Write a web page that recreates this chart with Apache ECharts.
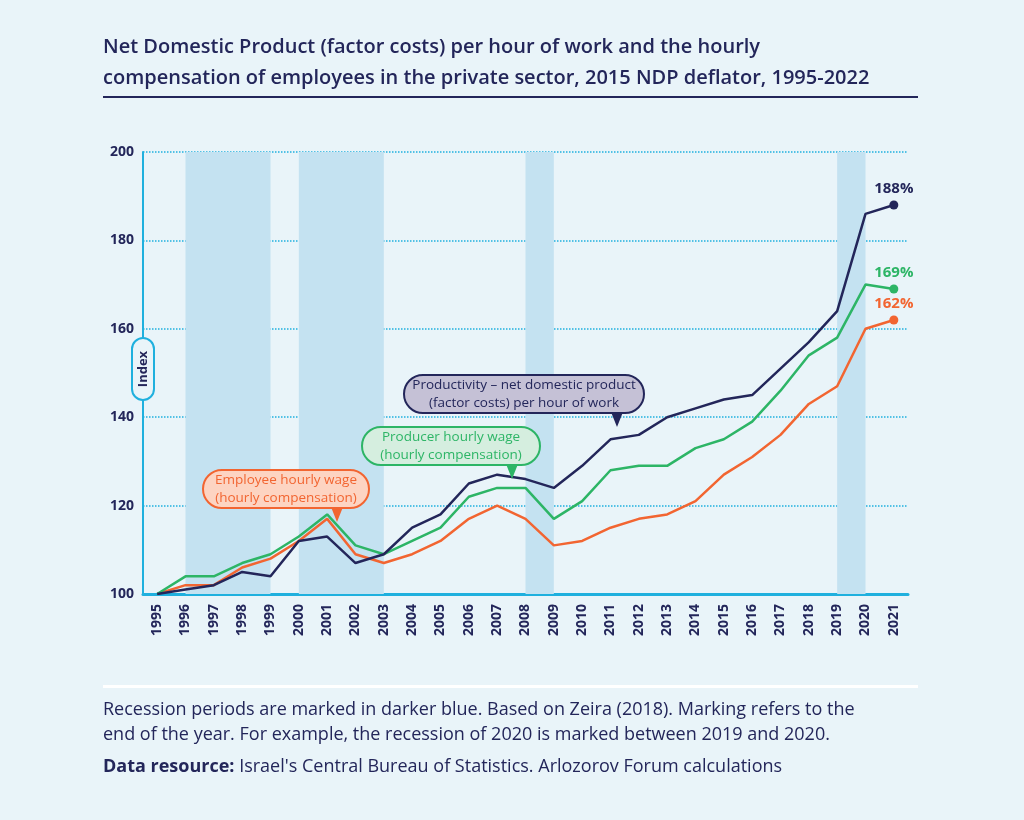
<!DOCTYPE html>
<html><head><meta charset="utf-8">
<script src="https://cdn.jsdelivr.net/npm/echarts@6/dist/echarts.min.js"></script>
<style>html,body{margin:0;padding:0;background:#e9f4f9;}#c{width:1024px;height:820px;}</style>
</head><body><div id="c"></div>
<script>
const years = ['1995','1996','1997','1998','1999','2000','2001','2002','2003','2004','2005','2006','2007','2008','2009','2010','2011','2012','2013','2014','2015','2016','2017','2018','2019','2020','2021'];
const productivity = [100,101,102,105,104,112,113,107,109,115,118,125,127,126,124,129,135,136,140,142,144,145,151,157,164,186,188];
const producerWage = [100,104,104,107,109,113,118,111,109,112,115,122,124,124,117,121,128,129,129,133,135,139,146,154,158,170,169];
const employeeWage = [100,102,102,106,108,112,117,109,107,109,112,117,120,117,111,112,115,117,118,121,127,131,136,143,147,160,162];
const recessions = [['1996','1999'],['2000','2003'],['2008','2009'],['2019','2020']];
const yTicks = [100,120,140,160,180,200];

const NAVY='#23265a', GREEN='#2db566', ORANGE='#f26531', CYAN='#1fb0de';
const chart = echarts.init(document.getElementById('c'));
function endMark(color, val){
  return {symbol:'circle', symbolSize:9, itemStyle:{color},
    label:{show:true, position:'top', distance:4, color, fontSize:15, fontWeight:'bold', fontFamily:'Open Sans', formatter: val+'%'},
    data:[{coord:[years[years.length-1], val], value:val}]};
}
function callout(x,y,w,h,fill,stroke,color,lines,tipX,tipDir){
  return [
    {type:'rect', shape:{x,y,width:w,height:h,r:h/2}, style:{fill,stroke,lineWidth:2}, z:20},
    {type:'polygon', shape:{points:[[tipX-6,y+h-1],[tipX+6,y+h-1],[tipX+tipDir,y+h+14]]}, style:{fill:stroke}, z:21},
    {type:'text', x:x+w/2, y:y+h/2, style:{text:lines, fill:color, font:'13.5px "Open Sans"', align:'center', verticalAlign:'middle', lineHeight:18}, z:22}
  ];
}
chart.setOption({
  backgroundColor:'#e9f4f9',
  animation:false,
  grid:{left:143, right:116, top:152, bottom:226},
  xAxis:{type:'category', data:years, boundaryGap:true,
    axisLine:{lineStyle:{color:CYAN, width:3}}, axisTick:{show:false},
    axisLabel:{rotate:90, color:NAVY, fontWeight:'bold', fontSize:14, fontFamily:'Open Sans', margin:10, interval:0},
    splitLine:{show:false}},
  yAxis:{type:'value', min:100, max:200, interval:20,
    axisLine:{show:true, lineStyle:{color:CYAN, width:2}}, axisTick:{show:false},
    axisLabel:{color:NAVY, fontWeight:'bold', fontSize:14, fontFamily:'Open Sans', margin:9, formatter:v=>yTicks.includes(v)?String(v):''},
    splitLine:{lineStyle:{color:CYAN, type:'dotted', width:1.5}}},
  series:[
    {type:'line', data:employeeWage, symbol:'none', lineStyle:{color:ORANGE, width:2.5}, z:3,
      markArea:{silent:true, itemStyle:{color:'#c4e2f1'}, data:recessions.map(r=>[{xAxis:r[0]},{xAxis:r[1]}])},
      markPoint:endMark(ORANGE,162)},
    {type:'line', data:producerWage, symbol:'none', lineStyle:{color:GREEN, width:2.5}, z:4, markPoint:endMark(GREEN,169)},
    {type:'line', data:productivity, symbol:'none', lineStyle:{color:NAVY, width:2.5}, z:5, markPoint:endMark(NAVY,188)}
  ],
  graphic:[
    {type:'text', left:103, top:32, style:{text:'Net Domestic Product (factor costs) per hour of work and the hourly\ncompensation of employees in the private sector, 2015 NDP deflator, 1995-2022', fill:NAVY, font:'600 20px "Open Sans"', lineHeight:31}},
    {type:'rect', shape:{x:103,y:96,width:815,height:2}, style:{fill:NAVY}},
    {type:'rect', shape:{x:103,y:685,width:815,height:3}, style:{fill:'#ffffff'}},
    {type:'text', left:103, top:697, style:{text:'Recession periods are marked in darker blue. Based on Zeira (2018). Marking refers to the\nend of the year. For example, the recession of 2020 is marked between 2019 and 2020.', fill:NAVY, font:'18px "Open Sans"', lineHeight:25}},
    {type:'text', left:103, top:758, style:{text:'{b|Data resource:} Israel\'s Central Bureau of Statistics. Arlozorov Forum calculations', fill:NAVY, font:'18px "Open Sans"', rich:{b:{fontWeight:'bold', fontSize:18, fontFamily:'Open Sans', fill:NAVY}}}},
    {type:'rect', shape:{x:132,y:338,width:22,height:62,r:11}, style:{fill:'#e9f4f9', stroke:CYAN, lineWidth:2}, z:20},
    {type:'text', x:143, y:369, rotation:Math.PI/2, style:{text:'Index', fill:NAVY, font:'bold 13px "Open Sans"', align:'center', verticalAlign:'middle'}, z:21},
    ...callout(203,470,166,38,'#fdd4c2',ORANGE,ORANGE,'Employee hourly wage\n(hourly compensation)',337,0),
    ...callout(362,427,178,38,'#d5eedf',GREEN,GREEN,'Producer hourly wage\n(hourly compensation)',512,0),
    ...callout(404,375,240,38,'#c5c1d6',NAVY,NAVY,'Productivity – net domestic product\n(factor costs) per hour of work',617,0)
  ]
});
</script></body></html>
